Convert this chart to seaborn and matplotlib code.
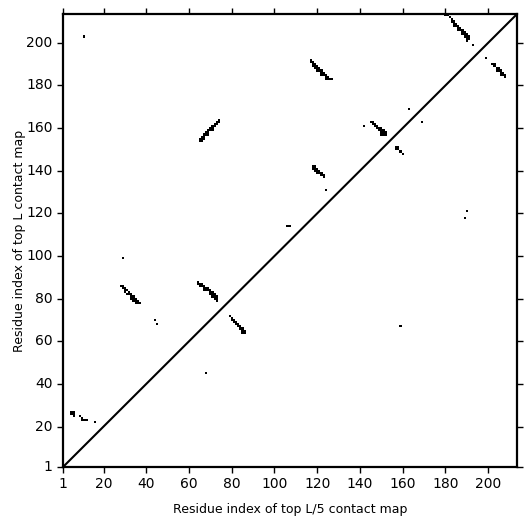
import numpy as np
import pandas as pd
import matplotlib
matplotlib.use('Agg')
import matplotlib.pyplot as plt
import seaborn as sns

# Sequence length and axis ticks
L = 213
tick_values = [1, 20, 40, 60, 80, 100, 120, 140, 160, 180, 200]

# Top L contacts (upper triangle): residue i on x, residue j on y
topL_x = [11,
          5, 6, 5, 6, 6, 9, 10, 10, 11, 12, 16,
          29,
          28, 29, 29, 30, 30, 31, 32, 32, 33, 33, 34, 34, 35, 35, 36, 36, 37,
          30, 31, 33, 34, 35,
          44, 45,
          64, 64, 65, 66, 66, 67, 67, 68, 69, 69, 70, 70, 71, 71, 72, 72, 73, 73, 73,
          65, 67, 68, 70, 71, 72,
          65, 66, 66, 67, 67, 68, 68, 69, 69, 70, 70, 71, 71, 72, 72, 73, 73, 74, 74,
          65, 66, 67, 69, 71,
          106, 107,
          117, 117, 118, 118, 119, 119, 120, 120, 121, 121, 122, 122, 123, 123, 124, 124, 125, 125, 126, 127,
          118, 119, 120, 122, 124,
          118, 119, 118, 119, 119, 120, 120, 121, 121, 122, 122, 123, 123, 120,
          124,
          142,
          145, 146, 146, 147, 147, 148, 148, 149, 150, 150, 151, 151, 150, 151, 152, 150, 149, 152,
          163,
          180, 181, 182, 183, 183, 184, 184, 185, 185, 186, 186, 187, 187, 188, 188, 189, 189, 190, 190, 189, 190,
          184, 186, 188, 190, 191, 191,
          193]
topL_y = [203,
          27, 27, 26, 26, 25, 25, 24, 23, 23, 23, 22,
          99,
          86, 86, 85, 85, 84, 84, 83, 82, 82, 81, 81, 80, 80, 79, 79, 78, 78,
          83, 82, 80, 79, 78,
          70, 68,
          88, 87, 87, 86, 87, 86, 85, 85, 84, 85, 84, 83, 83, 82, 82, 81, 81, 80, 79,
          86, 84, 84, 82, 81, 80,
          155, 155, 156, 156, 157, 157, 158, 158, 159, 159, 160, 160, 161, 161, 162, 162, 163, 163, 164,
          154, 154, 155, 157, 159,
          114, 114,
          192, 191, 191, 190, 190, 189, 189, 188, 188, 187, 187, 186, 186, 185, 185, 184, 184, 183, 183, 183,
          189, 188, 187, 185, 183,
          142, 142, 141, 141, 140, 140, 139, 139, 140, 139, 138, 138, 137, 141,
          131,
          161,
          163, 162, 163, 162, 161, 161, 160, 160, 159, 160, 159, 158, 158, 157, 158, 157, 159, 157,
          169,
          213, 213, 212, 211, 210, 210, 209, 209, 208, 208, 207, 207, 206, 206, 205, 205, 204, 204, 203, 203, 202,
          208, 206, 204, 201, 203, 202,
          199]

# Top L/5 contacts (lower triangle)
topL5_x = [68,
           79, 80, 80, 81, 82, 82, 83, 84, 84, 85, 85, 86, 86, 81, 83, 85,
           159,
           157, 158, 157, 158, 159, 160,
           169,
           189, 190,
           199,
           202, 203, 203, 204, 205, 205, 206, 206, 207, 207, 208, 208, 204, 206]
topL5_y = [45,
           72, 71, 70, 70, 69, 68, 68, 67, 66, 66, 65, 65, 64, 69, 67, 64,
           67,
           151, 151, 150, 150, 149, 148,
           163,
           118, 121,
           193,
           190, 190, 189, 188, 188, 187, 187, 186, 186, 185, 185, 184, 187, 185]

# Build the contact matrix (rows = y residue, columns = x residue)
contact = np.zeros((L, L))
for i, j in zip(topL_x + topL5_x, topL_y + topL5_y):
    contact[j - 1, i - 1] = 1
df = pd.DataFrame(contact, index=range(1, L + 1), columns=range(1, L + 1))

fig = plt.figure(figsize=(5.31, 5.31), dpi=100)
ax = fig.add_axes([0.1186, 0.1205, 0.855, 0.853])
sns.heatmap(df, cmap='Greys', vmin=0, vmax=1, cbar=False, ax=ax)

# Diagonal separating the two maps
ax.plot([0.5, L], [0.5, L], color='black', lw=1.5)
ax.set_xlim(0.5, L)
ax.set_ylim(0.5, L)

ax.set_xticks([t - 0.5 for t in tick_values])
ax.set_xticklabels([str(t) for t in tick_values], rotation=0)
ax.set_yticks([t - 0.5 for t in tick_values])
ax.set_yticklabels([str(t) for t in tick_values], rotation=0)
ax.tick_params(direction='out', top=True, right=True, labeltop=False, labelright=False,
               length=4, width=1, labelsize=10, colors='black')
for s in ax.spines.values():
    s.set_visible(True)
    s.set_linewidth(1.6)
    s.set_color('black')

ax.set_xlabel('Residue index of top L/5 contact map', fontsize=9, labelpad=8)
ax.set_ylabel('Residue index of top L contact map', fontsize=9, labelpad=0)

fig.savefig('out.png', dpi=100)
